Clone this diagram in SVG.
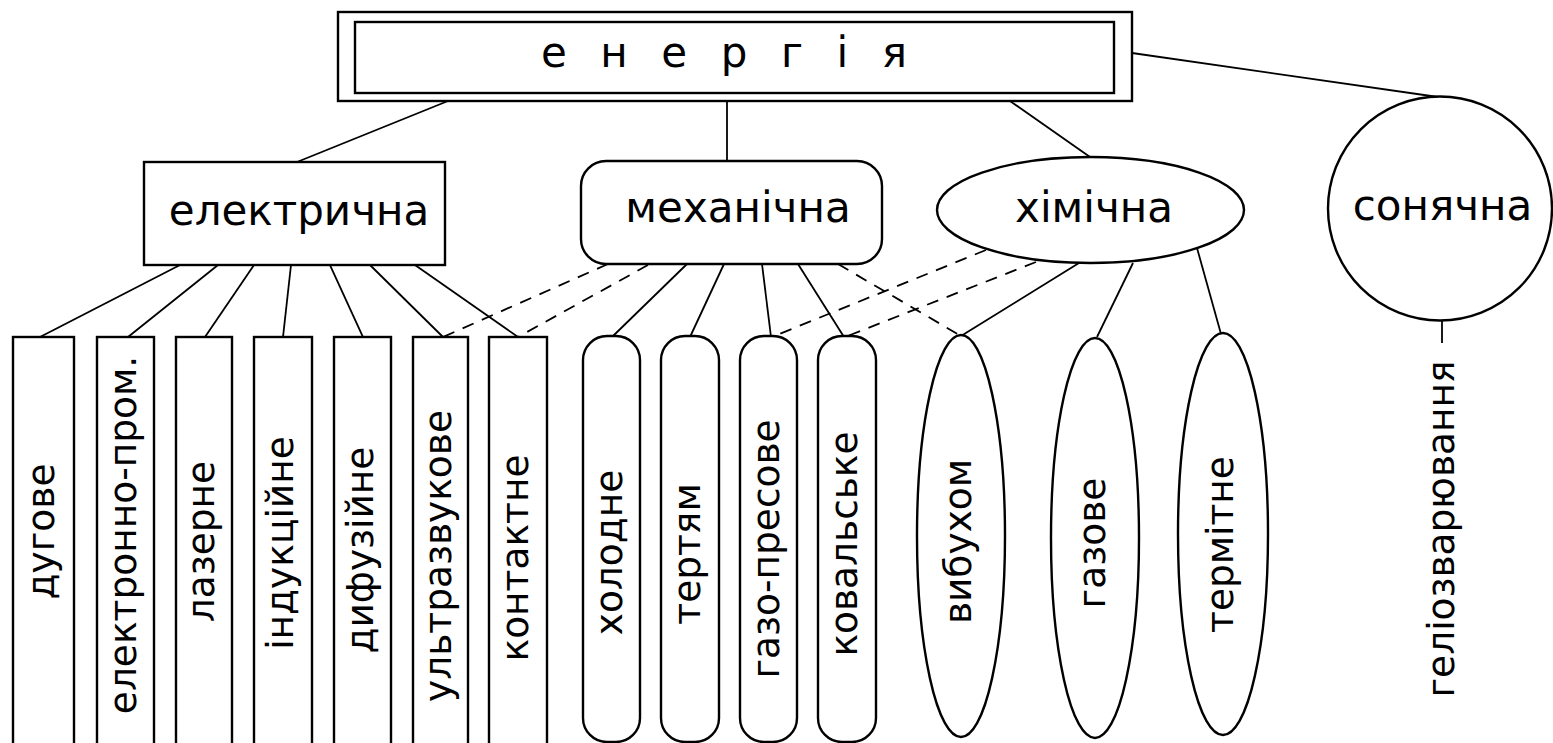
<svg xmlns="http://www.w3.org/2000/svg" width="1553" height="743" viewBox="0 0 1553 743">
<style>
.s{fill:#fff;stroke:#000;stroke-width:2.4}
.c{fill:none;stroke:#000;stroke-width:1.8}
.d{fill:none;stroke:#000;stroke-width:1.8;stroke-dasharray:12 9}
.h{font-family:"DejaVu Sans","Liberation Sans",sans-serif;font-size:42px;fill:#000}
.v{font-family:"DejaVu Sans","Liberation Sans",sans-serif;font-size:37.5px;fill:#000;text-anchor:middle}
</style>
<rect width="1553" height="743" fill="#fff"/>
<g id="connectors">
<line class="c" x1="448" y1="101" x2="297" y2="162"/>
<line class="c" x1="727" y1="101" x2="727" y2="161"/>
<line class="c" x1="1010" y1="101" x2="1090" y2="157"/>
<line class="c" x1="1132" y1="53" x2="1438" y2="97"/>
<line class="c" x1="180" y1="265" x2="40" y2="337"/>
<line class="c" x1="218" y1="265" x2="128" y2="337"/>
<line class="c" x1="254" y1="265" x2="205" y2="337"/>
<line class="c" x1="291" y1="265" x2="283" y2="337"/>
<line class="c" x1="330" y1="265" x2="363" y2="337"/>
<line class="c" x1="370" y1="265" x2="443" y2="337"/>
<line class="c" x1="415" y1="265" x2="518" y2="337"/>
<line class="d" x1="608" y1="264" x2="443" y2="337"/>
<line class="d" x1="648" y1="265" x2="518" y2="337"/>
<line class="c" x1="687" y1="264" x2="612" y2="337"/>
<line class="c" x1="724" y1="264" x2="690" y2="337"/>
<line class="c" x1="762" y1="264" x2="771" y2="337"/>
<line class="c" x1="798" y1="264" x2="844" y2="337"/>
<line class="d" x1="838" y1="264" x2="961" y2="336"/>
<line class="d" x1="986" y1="250" x2="772" y2="337"/>
<line class="d" x1="1036" y1="262" x2="845" y2="337"/>
<line class="c" x1="1079" y1="263" x2="961" y2="336"/>
<line class="c" x1="1133" y1="263" x2="1097" y2="337"/>
<line class="c" x1="1197" y1="248" x2="1221" y2="334"/>
<line class="c" x1="1442" y1="320" x2="1442" y2="343"/>
</g>
<g id="energy">
<rect class="s" x="338" y="12" width="794" height="89"/>
<rect class="s" x="355" y="22" width="759" height="71" stroke-width="2"/>
<text class="h" x="541" y="67" textLength="366" lengthAdjust="spacing">е н е р г і я</text>
</g>
<g id="electric">
<rect class="s" x="144" y="162" width="301" height="103"/>
<text class="h" x="299" y="225" text-anchor="middle">електрична</text>
</g>
<g id="mechanical">
<rect class="s" x="581" y="161" width="301" height="103" rx="25"/>
<text class="h" x="738" y="222" text-anchor="middle">механічна</text>
</g>
<g id="chemical">
<ellipse class="s" cx="1090.5" cy="210" rx="153.5" ry="53"/>
<text class="h" x="1094" y="222" text-anchor="middle">хімічна</text>
</g>
<g id="solar">
<circle class="s" cx="1440" cy="208.5" r="112"/>
<text class="h" x="1442.5" y="220" text-anchor="middle">сонячна</text>
</g>
<g id="arc">
<rect class="s" x="13" y="337" width="61" height="420"/>
<text class="v" transform="translate(53.5,531.5) rotate(-90)">дугове</text>
</g>
<g id="ebeam">
<rect class="s" x="97" y="337" width="57" height="420"/>
<text class="v" transform="translate(135.5,535) rotate(-90)">електронно-пром.</text>
</g>
<g id="laser">
<rect class="s" x="176" y="337" width="56" height="420"/>
<text class="v" transform="translate(214,541.5) rotate(-90)">лазерне</text>
</g>
<g id="induction">
<rect class="s" x="254" y="337" width="58" height="420"/>
<text class="v" transform="translate(293,543) rotate(-90)">індукційне</text>
</g>
<g id="diffusion">
<rect class="s" x="334" y="337" width="57" height="420"/>
<text class="v" transform="translate(372.5,550) rotate(-90)">дифузійне</text>
</g>
<g id="ultrasonic">
<rect class="s" x="413" y="337" width="55" height="420"/>
<text class="v" transform="translate(450.5,556) rotate(-90)">ультразвукове</text>
</g>
<g id="contact">
<rect class="s" x="489" y="337" width="58" height="420"/>
<text class="v" transform="translate(528,558) rotate(-90)">контактне</text>
</g>
<g id="cold">
<rect class="s" x="583" y="336" width="57" height="406" rx="24"/>
<text class="v" transform="translate(621.5,552.5) rotate(-90)">холодне</text>
</g>
<g id="friction">
<rect class="s" x="661" y="336" width="58" height="406" rx="24"/>
<text class="v" transform="translate(700,554) rotate(-90)">тертям</text>
</g>
<g id="gaspress">
<rect class="s" x="740" y="336" width="57" height="406" rx="24"/>
<text class="v" transform="translate(778.5,549) rotate(-90)">газо-пресове</text>
</g>
<g id="forge">
<rect class="s" x="818" y="336" width="58" height="406" rx="24"/>
<text class="v" transform="translate(857,544) rotate(-90)">ковальське</text>
</g>
<g id="explosion">
<ellipse class="s" cx="961" cy="536" rx="44" ry="201"/>
<text class="v" transform="translate(971,541.5) rotate(-90)">вибухом</text>
</g>
<g id="gas">
<ellipse class="s" cx="1095" cy="538" rx="44" ry="200"/>
<text class="v" transform="translate(1105,543) rotate(-90)">газове</text>
</g>
<g id="thermite">
<ellipse class="s" cx="1223" cy="534" rx="45" ry="201"/>
<text class="v" transform="translate(1233,544.5) rotate(-90)">термітне</text>
</g>
<g id="helio">
<text class="v" transform="translate(1454,529) rotate(-90)">геліозварювання</text>
</g>
</svg>
